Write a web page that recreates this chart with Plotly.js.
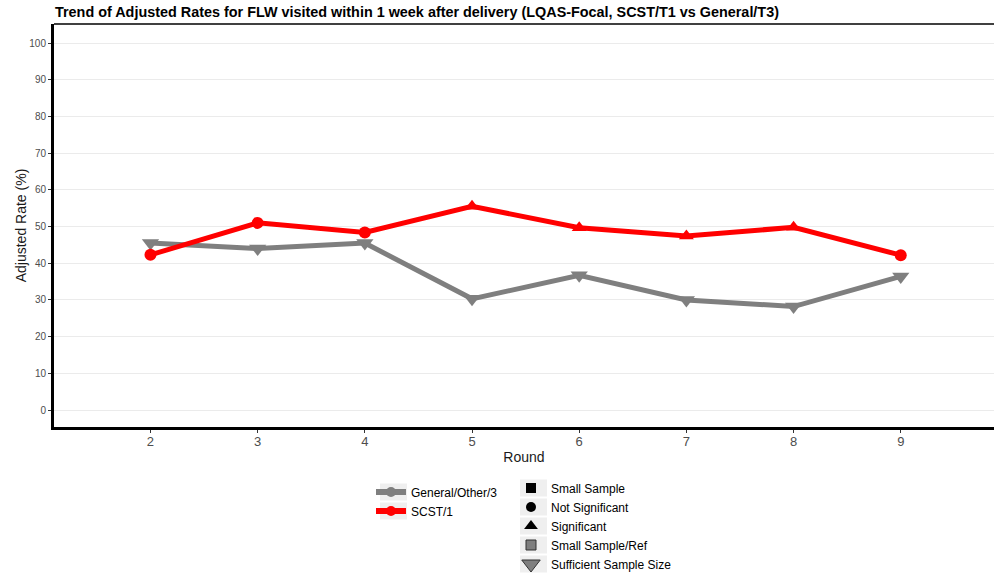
<!DOCTYPE html>
<html><head><meta charset="utf-8">
<script src="https://cdn.plot.ly/plotly-3.0.1.min.js"></script>
<style>html,body{margin:0;padding:0;background:#fff}#chart{width:994px;height:573px}</style>
</head><body><div id="chart"></div>
<script>
const rounds = [2, 3, 4, 5, 6, 7, 8, 9];
const generalRates = [45.5, 44.0, 45.5, 30.3, 36.7, 30.0, 28.2, 36.4];
const scstRates = [42.3, 51.0, 48.4, 55.5, 49.7, 47.4, 49.8, 42.2];
const generalShapes = ['triangle-down','triangle-down','triangle-down','triangle-down','triangle-down','triangle-down','triangle-down','triangle-down'];
const scstShapes = ['circle','circle','circle','triangle-up','triangle-up','triangle-up','triangle-up','circle'];
const groupNames = ['General/Other/3', 'SCST/1'];
const shapeNames = ['Small Sample', 'Not Significant', 'Significant', 'Small Sample/Ref', 'Sufficient Sample Size'];
const shapeSymbols = ['square', 'circle', 'triangle-up', 'square', 'triangle-down'];
const shapeColors = ['#000000', '#000000', '#000000', '#7F7F7F', '#7F7F7F'];
const shapeSizes = [10, 10, 12, 10, 16];
const yTicks = [0, 10, 20, 30, 40, 50, 60, 70, 80, 90, 100];

const GREY = '#7F7F7F', RED = '#FF0000';
const font = 'Liberation Sans, Arial, sans-serif';
const symbolSize = {'circle': 12, 'triangle-up': 13, 'triangle-down': 15, 'square': 10};

const traces = [
  {x: rounds, y: generalRates, mode: 'lines+markers', showlegend: false,
   line: {color: GREY, width: 5},
   marker: {color: GREY, opacity: 1, size: generalShapes.map(s => symbolSize[s]), symbol: generalShapes, line: {width: 0}}},
  {x: rounds, y: scstRates, mode: 'lines+markers', showlegend: false,
   line: {color: RED, width: 5},
   marker: {color: RED, opacity: 1, size: scstShapes.map(s => symbolSize[s]), symbol: scstShapes, line: {width: 0}}},
  {x: [null], y: [null], name: groupNames[0], mode: 'lines+markers', legend: 'legend',
   line: {color: GREY, width: 6}, marker: {color: GREY, size: 10, symbol: 'circle'}},
  {x: [null], y: [null], name: groupNames[1], mode: 'lines+markers', legend: 'legend',
   line: {color: RED, width: 6}, marker: {color: RED, size: 10, symbol: 'circle'}}
];
shapeNames.forEach((n, i) => {
  traces.push({x: [null], y: [null], name: n, mode: 'markers', legend: 'legend2',
    marker: {color: shapeColors[i], size: shapeSizes[i], symbol: shapeSymbols[i],
      line: {width: i >= 3 ? 1 : 0, color: '#333333'}}});
});

// legend key background boxes (pixel -> paper)
const px2x = p => (p - 54) / 940, px2y = p => (427 - p) / 403;
const keyBoxes = [];
[492, 511].forEach(c => keyBoxes.push({type: 'rect', xref: 'paper', yref: 'paper', layer: 'above',
  x0: px2x(380), x1: px2x(407), y0: px2y(c - 8.5), y1: px2y(c + 8.5),
  fillcolor: '#EFEFEF', line: {width: 0}}));
[488, 507, 526, 545, 564].forEach(c => keyBoxes.push({type: 'rect', xref: 'paper', yref: 'paper', layer: 'above',
  x0: px2x(520), x1: px2x(547), y0: px2y(c - 8.5), y1: px2y(c + 8.5),
  fillcolor: '#EFEFEF', line: {width: 0}}));

const layout = {
  width: 994, height: 573,
  margin: {l: 54, r: 0, t: 24, b: 146},
  paper_bgcolor: '#ffffff', plot_bgcolor: '#ffffff',
  font: {family: font, color: '#000000'},
  title: {text: '<b>Trend of Adjusted Rates for FLW visited within 1 week after delivery (LQAS-Focal, SCST/T1 vs General/T3)</b>',
    font: {family: font, size: 14.4, color: '#000000'},
    x: 55/994, xref: 'container', xanchor: 'left', y: 1 - 12/573, yref: 'container', yanchor: 'middle'},
  xaxis: {range: [1.1, 9.87], tickmode: 'array', tickvals: rounds, ticktext: rounds.map(String),
    showgrid: false, zeroline: false, showline: true, linecolor: '#000000', linewidth: 3,
    ticks: 'outside', ticklen: 3, tickcolor: '#333333', tickwidth: 1, ticklabelstandoff: -3,
    tickfont: {family: font, size: 13, color: '#4D4D4D'},
    title: {text: 'Round', font: {family: font, size: 14, color: '#1a1a1a'}, standoff: 5}},
  yaxis: {range: [-4.63, 105.2], tickmode: 'array', tickvals: yTicks,
    showgrid: true, gridcolor: '#EBEBEB', gridwidth: 1, zeroline: false,
    showline: true, linecolor: '#000000', linewidth: 3,
    ticks: 'outside', ticklen: 3, tickcolor: '#333333', tickwidth: 1,
    tickfont: {family: font, size: 10, color: '#4D4D4D'},
    title: {text: 'Adjusted Rate (%)', font: {family: font, size: 14, color: '#1a1a1a'}, standoff: 0}},
  shapes: [{type: 'line', xref: 'paper', yref: 'paper', x0: 0, x1: 1, y0: 1, y1: 1,
    line: {color: '#000000', width: 1.5}}].concat(keyBoxes),
  legend: {x: px2x(371), y: 1 - 477.5/573, xref: 'paper', yref: 'container', xanchor: 'left', yanchor: 'top',
    bgcolor: 'rgba(0,0,0,0)', font: {family: font, size: 12, color: '#000000'},
    itemwidth: 30, tracegroupgap: 0},
  legend2: {x: px2x(511), y: 1 - 473.5/573, xref: 'paper', yref: 'container', xanchor: 'left', yanchor: 'top',
    bgcolor: 'rgba(0,0,0,0)', font: {family: font, size: 12, color: '#000000'},
    itemwidth: 30, tracegroupgap: 0}
};

Plotly.newPlot('chart', traces, layout, {displayModeBar: false, staticPlot: true});
</script>
</body></html>
